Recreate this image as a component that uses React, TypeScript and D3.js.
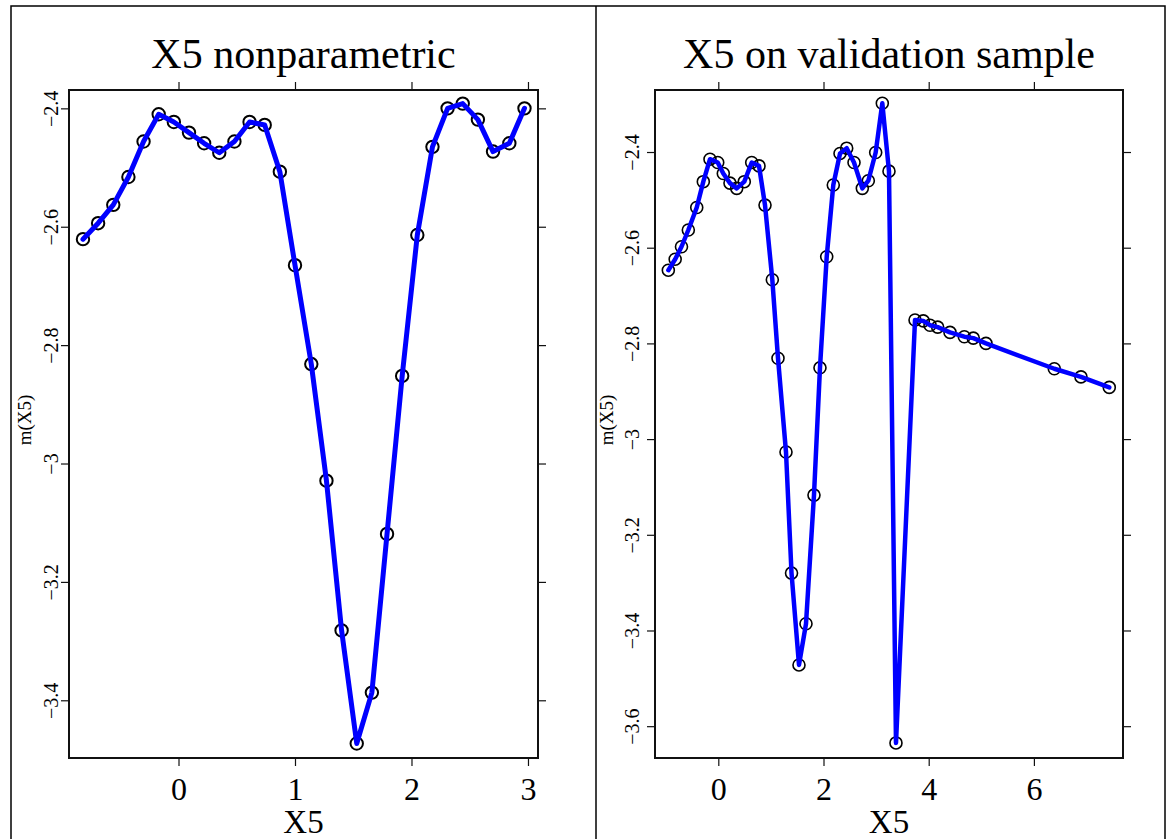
import { useEffect, useRef } from "react";
import * as d3 from "d3";

// left panel: X5 nonparametric
const npX = [-0.82, -0.69, -0.56, -0.43, -0.30, -0.17, -0.04, 0.09, 0.22, 0.35,
  0.48, 0.61, 0.74, 0.87, 1.00, 1.14, 1.27, 1.40, 1.53, 1.66,
  1.79, 1.92, 2.05, 2.18, 2.31, 2.44, 2.57, 2.70, 2.84, 2.97];
const npY = [-2.621, -2.594, -2.563, -2.516, -2.456, -2.410, -2.423, -2.441, -2.459, -2.475,
  -2.456, -2.423, -2.428, -2.507, -2.665, -2.832, -3.029, -3.282, -3.473, -3.387,
  -3.119, -2.852, -2.614, -2.465, -2.400, -2.392, -2.419, -2.473, -2.459, -2.400];

// right panel: X5 on validation sample
const valX = [-0.95, -0.82, -0.70, -0.57, -0.41, -0.285, -0.158, -0.011, 0.095, 0.222,
  0.35, 0.494, 0.635, 0.774, 0.888, 1.027, 1.135, 1.287, 1.392, 1.534,
  1.667, 1.819, 1.933, 2.061, 2.186, 2.314, 2.441, 2.58, 2.738, 2.852,
  2.992, 3.118, 3.245, 3.378, 3.74, 3.897, 4.025, 4.171, 4.405, 4.677,
  4.848, 5.089, 6.388, 6.895, 7.433];
const valY = [-2.647, -2.624, -2.598, -2.563, -2.516, -2.462, -2.415, -2.422, -2.445, -2.465,
  -2.476, -2.462, -2.422, -2.429, -2.511, -2.667, -2.831, -3.027, -3.28, -3.472,
  -3.386, -3.117, -2.851, -2.619, -2.469, -2.403, -2.392, -2.422, -2.476, -2.46,
  -2.401, -2.298, -2.44, -3.635, -2.751, -2.753, -2.762, -2.766, -2.777, -2.786,
  -2.789, -2.8, -2.853, -2.87, -2.892];

const npXTicks = [0, 1, 2, 3];
const npYTicks = [-2.4, -2.6, -2.8, -3, -3.2, -3.4];
const valXTicks = [0, 2, 4, 6];
const valYTicks = [-2.4, -2.6, -2.8, -3, -3.2, -3.4, -3.6];

const serif = "'Liberation Serif', 'Times New Roman', serif";

function drawPanel(g, opts) {
  const { xs, ys, xDomain, yDomain, left, right, top, bottom, xTicks, yTicks, title,
    labelOff, ylabX, lineW, circleW, r } = opts;
  const x = d3.scaleLinear().domain(xDomain).range([left, right]);
  const y = d3.scaleLinear().domain(yDomain).range([bottom, top]);
  const tick = 8;

  // title
  g.append("text")
    .attr("x", (left + right) / 2).attr("y", 68)
    .attr("text-anchor", "middle")
    .style("font-family", serif).style("font-size", "42px")
    .text(title);

  // axes (ticks on all four sides)
  const bottomAx = g.append("g").attr("transform", `translate(0,${bottom})`)
    .call(d3.axisBottom(x).tickValues(xTicks).tickSize(tick).tickPadding(11).tickFormat(d3.format("d")));
  bottomAx.selectAll("text").style("font-family", serif).style("font-size", "32px").attr("fill", "#000");

  g.append("g").attr("transform", `translate(0,${top})`)
    .call(d3.axisTop(x).tickValues(xTicks).tickSize(tick).tickFormat(() => ""));
  g.append("g").attr("transform", `translate(${right},0)`)
    .call(d3.axisRight(y).tickValues(yTicks).tickSize(tick).tickFormat(() => ""));

  const leftAx = g.append("g").attr("transform", `translate(${left},0)`)
    .call(d3.axisLeft(y).tickValues(yTicks).tickSize(tick).tickFormat(d => d3.format("")(d)));
  leftAx.selectAll("text")
    .attr("transform", "rotate(-90)")
    .attr("x", 0).attr("y", labelOff).attr("dy", 0)
    .attr("text-anchor", "middle")
    .attr("fill", "#000")
    .style("font-family", serif).style("font-size", "20px");

  g.selectAll(".domain").remove();
  g.selectAll(".tick line").attr("stroke", "#111").attr("stroke-width", 1.2);

  // plot box
  g.append("rect")
    .attr("x", left).attr("y", top)
    .attr("width", right - left).attr("height", bottom - top)
    .attr("fill", "none").attr("stroke", "#111").attr("stroke-width", 2);

  // axis titles
  g.append("text")
    .attr("x", (left + right) / 2).attr("y", 833)
    .attr("text-anchor", "middle")
    .style("font-family", serif).style("font-size", "33px")
    .text("X5");
  g.append("text")
    .attr("transform", `translate(${ylabX},420) rotate(-90)`)
    .attr("text-anchor", "middle")
    .style("font-family", serif).style("font-size", "19px")
    .text("m(X5)");

  const pts = xs.map((v, i) => [v, ys[i]]);

  // points
  g.append("g").selectAll("circle")
    .data(pts).join("circle")
    .attr("cx", d => x(d[0])).attr("cy", d => y(d[1]))
    .attr("r", r)
    .attr("fill", "none").attr("stroke", "#000").attr("stroke-width", circleW);

  // line on top
  const line = d3.line().x(d => x(d[0])).y(d => y(d[1]));
  g.append("path")
    .attr("d", line(pts))
    .attr("fill", "none").attr("stroke", "#0000ff")
    .attr("stroke-width", lineW).attr("stroke-linejoin", "round").attr("stroke-linecap", "round");
}

export default function App() {
  const ref = useRef(null);

  useEffect(() => {
    const svg = d3.select(ref.current);
    svg.selectAll("*").remove();

    // outer frame and divider
    svg.append("rect").attr("x", 11).attr("y", 6).attr("width", 1154).attr("height", 850)
      .attr("fill", "none").attr("stroke", "#000").attr("stroke-width", 1.5);
    svg.append("line").attr("x1", 596).attr("x2", 596).attr("y1", 6).attr("y2", 839)
      .attr("stroke", "#000").attr("stroke-width", 1.5);

    drawPanel(svg.append("g"), {
      xs: npX, ys: npY,
      xDomain: [-0.94, 3.086], yDomain: [-3.4975, -2.369],
      left: 69, right: 538, top: 90, bottom: 758,
      xTicks: npXTicks, yTicks: npYTicks,
      title: "X5 nonparametric",
      labelOff: -11, ylabX: 31,
      lineW: 5, circleW: 2, r: 6.2,
    });

    drawPanel(svg.append("g"), {
      xs: valX, ys: valY,
      xDomain: [-1.2035, 7.694], yDomain: [-3.6665, -2.2704],
      left: 655, right: 1123, top: 90, bottom: 758,
      xTicks: valXTicks, yTicks: valYTicks,
      title: "X5 on validation sample",
      labelOff: -16, ylabX: 613,
      lineW: 4.5, circleW: 1.6, r: 6,
    });
  }, []);

  return (
    <svg ref={ref} width={1166} height={839}
      style={{ position: "absolute", left: 0, top: 0, background: "#fff" }} />
  );
}
